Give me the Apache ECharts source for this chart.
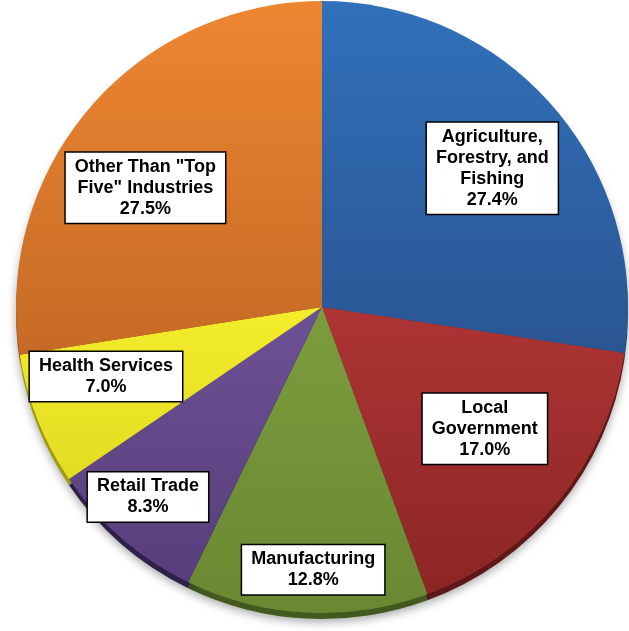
<!DOCTYPE html>
<html>
<head>
<meta charset="utf-8">
<script src="https://cdn.jsdelivr.net/npm/echarts@6/dist/echarts.min.js"></script>
<style>html,body{margin:0;padding:0;background:#fff}#c{width:629px;height:631px}</style>
</head>
<body>
<div id="c"></div>
<script>
const categories = [
  'Agriculture,\nForestry, and\nFishing',
  'Local\nGovernment',
  'Manufacturing',
  'Retail Trade',
  'Health Services',
  'Other Than "Top\nFive" Industries'
];
const shares = [27.4, 17.0, 12.8, 8.3, 7.0, 27.5];

// styling (not data)
const lightColors = ['#3171BA', '#AE3434', '#7C9D3D', '#6D5195', '#F3ED2B', '#EE8631'];
const darkColors  = ['#2A5593', '#8C2525', '#698832', '#583E7C', '#E4DC22', '#C56A25'];
const rimColors   = ['#1E3F70', '#5E1818', '#44591F', '#2F2048', '#A09A10', '#8A4A18'];
const labelNudge  = [[52, -37], [42, 23], [-1, 107], [-72, 72], [-71, 12], [-58, -18]];

const chart = echarts.init(document.getElementById('c'), null, {renderer: 'canvas'});

const mainData = categories.map((name, i) => ({
  name: name,
  value: shares[i],
  itemStyle: {
    color: {
      type: 'linear', x: 0, y: 0, x2: 0, y2: 1,
      colorStops: [{offset: 0, color: lightColors[i]}, {offset: 1, color: darkColors[i]}]
    }
  }
}));
const rimData = categories.map((name, i) => ({
  name: name, value: shares[i], itemStyle: {color: rimColors[i]}
}));

chart.setOption({
  backgroundColor: '#ffffff',
  animation: false,
  series: [
    {
      type: 'pie',
      silent: true,
      center: [322, 313],
      radius: 306,
      startAngle: 90,
      clockwise: true,
      label: {show: false},
      labelLine: {show: false},
      itemStyle: {shadowBlur: 10, shadowColor: 'rgba(0,0,0,0.35)', shadowOffsetY: 3},
      data: rimData
    },
    {
      type: 'pie',
      center: [322, 307],
      radius: 306,
      startAngle: 90,
      clockwise: true,
      labelLine: {show: false},
      label: {
        show: true,
        position: 'inside',
        formatter: p => p.name + '\n' + p.value.toFixed(1) + '%',
        fontFamily: '"Liberation Sans", Arial, sans-serif',
        fontWeight: 'bold',
        fontSize: 18,
        lineHeight: 21,
        color: '#000',
        align: 'center',
        backgroundColor: '#fff',
        borderColor: '#000',
        borderWidth: 1.5,
        padding: [4, 9, 3, 9]
      },
      labelLayout: function (params) {
        const n = labelNudge[params.dataIndex];
        return {dx: n[0], dy: n[1]};
      },
      data: mainData
    }
  ]
});
</script>
</body>
</html>
